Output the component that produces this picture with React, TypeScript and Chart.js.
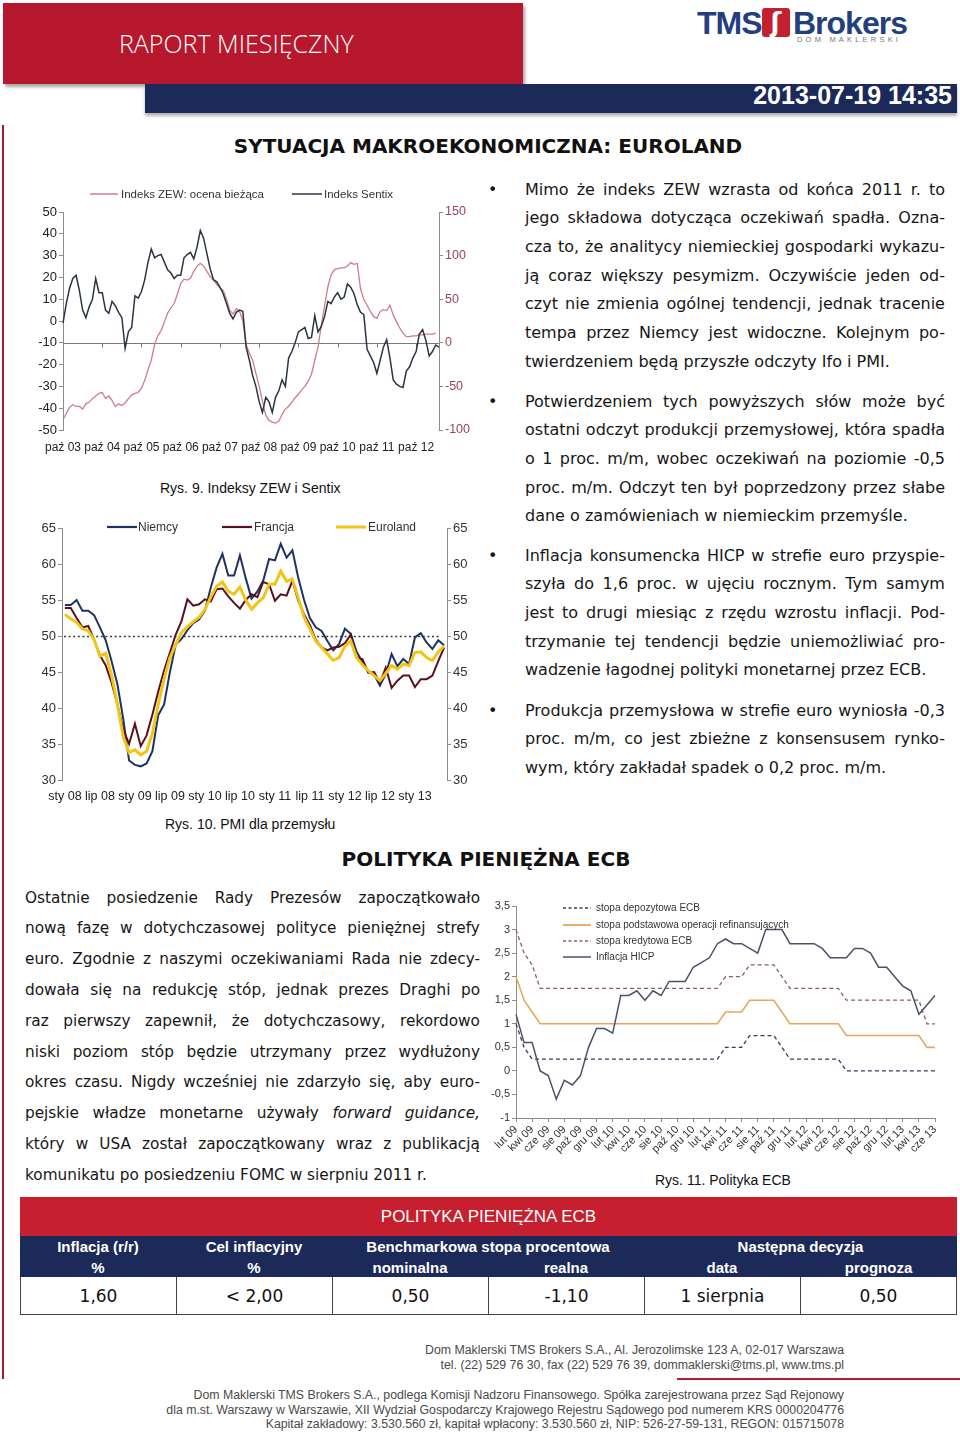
import React, { useEffect, useRef } from 'react';
import { Chart, registerables } from 'chart.js';

Chart.register(...registerables);

const BODY_FONT = '"DejaVu Sans", Verdana, sans-serif';
const CHART_FONT = '"Liberation Sans", Arial, sans-serif';

const PL_MONTHS = ['sty', 'lut', 'mar', 'kwi', 'maj', 'cze', 'lip', 'sie', 'wrz', 'paź', 'lis', 'gru'];

function monthCategories(startYear: number, startMonthIdx: number, count: number): string[] {
  const out: string[] = [];
  for (let k = 0; k < count; k++) {
    const m = (startMonthIdx + k) % 12;
    const y = startYear + Math.floor((startMonthIdx + k) / 12);
    out.push(`${PL_MONTHS[m]} ${String(y % 100).padStart(2, '0')}`);
  }
  return out;
}

/* ---------------- Rys. 9: ZEW i Sentix (monthly, paź 03 - maj 13) ---------------- */
const zewSentixCategories = monthCategories(2003, 9, 116);
const zewSentixTickLabels = ['paź 03', 'paź 04', 'paź 05', 'paź 06', 'paź 07', 'paź 08', 'paź 09', 'paź 10', 'paź 11', 'paź 12'];
const sentixIndex = [
  -1, 8, 15, 19.5, 21, 14, 5, 1.5, 6.5, 10,
  19.5, 13, 13, 5, 3.5, 9, 7, 4, 1.5, -12.5,
  -5, -3, 11.5, 10.5, 13.5, 19, 27, 33, 29, 30,
  30.5, 27, 23.5, 22, 19.5, 21, 21, 29, 30.5, 31.5,
  28.5, 34, 41.5, 38, 31, 24, 19, 18, 15.5, 12.5,
  8, 3.5, 1, 4, 5, 4.5, -12, -18, -25, -30,
  -37, -42, -35, -37, -42, -35, -32, -27, -30, -17,
  -14, -10, -5, -4, -3, -8, -7.5, 2.5, -5, -2.5,
  2, 9, 8, 11, 13, 10, 11, 17, 15.5, 12.5,
  7.5, 4, 3, -13, -16, -19, -24, -18, -12, -8.5,
  -17, -27, -29, -30, -30.5, -23, -21, -17, -14, -6,
  -4, -9, -16, -14, -11, -12,
];
const zewCurrentConditions = [
  -88, -81, -74, -71, -73, -73, -76, -70, -68, -64,
  -61, -58, -57, -64, -61, -66, -73, -70, -72, -69,
  -64, -60, -58, -57, -52, -43, -31, -20, -2, 8,
  14, 24, 34, 40, 45, 56, 68, 73, 72, 74,
  82, 88, 91, 88, 82, 76, 72, 67, 63, 60,
  50, 37, 33, 39, 36, 25, -2, -12, -20, -35,
  -50, -67, -83, -89, -91, -92, -90, -82, -76, -73,
  -68, -63, -59, -54, -50, -44, -36, -20, -5, 20,
  42, 64, 78, 84, 85, 86, 86, 88, 92, 90,
  91, 62, 50, 43, 36, 30, 28, 36, 38, 37,
  43, 32, 24, 17, 11, 7, 7, 8, 8, 9,
  9, 10, 10, 10, 11, null,
];

/* ---------------- Rys. 10: PMI (monthly, sty 08 - cze 13) ---------------- */
const pmiCategories = monthCategories(2008, 0, 66);
const pmiTickLabels = ['sty 08', 'lip 08', 'sty 09', 'lip 09', 'sty 10', 'lip 10', 'sty 11', 'lip 11', 'sty 12', 'lip 12', 'sty 13'];
const pmiGermany = [
  54.3, 54.3, 55.0, 53.5, 53.5, 52.9, 51.2, 49.4, 46.5, 43.3,
  38.5, 32.7, 32.1, 31.9, 32.3, 34.0, 39.0, 40.5, 45.0, 48.8,
  49.6, 50.8, 51.8, 52.3, 53.5, 56.7, 59.5, 61.4, 58.4, 58.4,
  61.2, 58.0, 55.2, 56.2, 57.7, 60.7, 60.5, 62.8, 60.9, 61.9,
  58.1, 55.0, 52.5, 51.2, 50.7, 49.3, 48.0, 48.9, 51.0, 50.3,
  47.8, 46.4, 45.0, 44.6, 43.1, 44.7, 47.5, 45.8, 46.8, 46.1,
  49.8, 50.4, 49.1, 48.2, 49.4, 48.7,
];
const pmiFrance = [
  53.9, 53.9, 52.5, 51.2, 51.4, 49.5, 47.3, 45.9, 43.5, 40.5,
  37.0, 35.0, 37.8, 34.7, 36.2, 39.1, 42.3, 45.2, 47.7, 50.2,
  52.1, 55.1, 54.2, 54.4, 55.1, 54.8, 56.5, 56.6, 55.5, 54.6,
  53.8, 55.0, 55.8, 55.4, 57.5, 57.2, 54.9, 55.8, 55.6, 57.7,
  54.9, 53.0, 51.5, 49.5, 48.4, 48.0, 48.4, 48.5, 49.0, 50.2,
  47.0, 46.8, 44.9, 45.0, 43.5, 45.6, 42.8, 43.8, 44.5, 44.5,
  42.9, 44.0, 44.0, 44.5, 46.5, 48.4,
];
const pmiEuroland = [
  53.0, 52.4, 51.9, 51.0, 50.7, 49.5, 47.2, 47.6, 44.5, 40.5,
  36.0, 33.8, 34.2, 33.5, 34.0, 36.5, 40.5, 44.0, 47.0, 48.8,
  50.5, 51.3, 52.0, 52.6, 53.7, 55.4, 56.9, 57.5, 56.2, 55.8,
  56.8, 55.0, 53.7, 54.6, 55.3, 57.2, 57.2, 59.0, 57.6, 57.9,
  55.3, 52.6, 51.0, 49.3, 48.4, 47.5, 46.6, 47.0, 48.6, 49.3,
  47.0, 46.0, 45.2, 44.5, 43.8, 44.8, 45.9, 45.4, 46.1, 45.9,
  47.7, 47.8, 47.0, 46.6, 47.8, 48.6,
];

/* ---------------- Rys. 11: Polityka ECB (monthly, lut 09 - cze 13) ---------------- */
const ecbCategories = monthCategories(2009, 1, 53);
const ecbTickLabels = [
  'lut 09', 'kwi 09', 'cze 09', 'sie 09', 'paź 09', 'gru 09', 'lut 10', 'kwi 10', 'cze 10', 'sie 10',
  'paź 10', 'gru 10', 'lut 11', 'kwi 11', 'cze 11', 'sie 11', 'paź 11', 'gru 11', 'lut 12', 'kwi 12',
  'cze 12', 'sie 12', 'paź 12', 'gru 12', 'lut 13', 'kwi 13', 'cze 13',
];
const ecbDepositRate = [
  1.0, 0.5, 0.25, 0.25, 0.25, 0.25, 0.25, 0.25, 0.25, 0.25,
  0.25, 0.25, 0.25, 0.25, 0.25, 0.25, 0.25, 0.25, 0.25, 0.25,
  0.25, 0.25, 0.25, 0.25, 0.25, 0.25, 0.5, 0.5, 0.5, 0.75,
  0.75, 0.75, 0.75, 0.5, 0.25, 0.25, 0.25, 0.25, 0.25, 0.25,
  0.25, 0, 0, 0, 0, 0, 0, 0, 0, 0,
  0, 0, 0,
];
const ecbRefiRate = [
  2.0, 1.5, 1.25, 1.0, 1.0, 1.0, 1.0, 1.0, 1.0, 1.0,
  1.0, 1.0, 1.0, 1.0, 1.0, 1.0, 1.0, 1.0, 1.0, 1.0,
  1.0, 1.0, 1.0, 1.0, 1.0, 1.0, 1.25, 1.25, 1.25, 1.5,
  1.5, 1.5, 1.5, 1.25, 1.0, 1.0, 1.0, 1.0, 1.0, 1.0,
  1.0, 0.75, 0.75, 0.75, 0.75, 0.75, 0.75, 0.75, 0.75, 0.75,
  0.75, 0.5, 0.5,
];
const ecbLendingRate = [
  3.0, 2.5, 2.25, 1.75, 1.75, 1.75, 1.75, 1.75, 1.75, 1.75,
  1.75, 1.75, 1.75, 1.75, 1.75, 1.75, 1.75, 1.75, 1.75, 1.75,
  1.75, 1.75, 1.75, 1.75, 1.75, 1.75, 2.0, 2.0, 2.0, 2.25,
  2.25, 2.25, 2.25, 2.0, 1.75, 1.75, 1.75, 1.75, 1.75, 1.75,
  1.75, 1.5, 1.5, 1.5, 1.5, 1.5, 1.5, 1.5, 1.5, 1.5,
  1.5, 1.0, 1.0,
];
const hicpInflation = [
  1.2, 0.6, 0.6, 0.0, -0.1, -0.6, -0.2, -0.3, -0.1, 0.5,
  0.9, 0.9, 0.8, 1.6, 1.6, 1.7, 1.5, 1.7, 1.6, 1.9,
  1.9, 1.9, 2.2, 2.3, 2.4, 2.7, 2.8, 2.7, 2.7, 2.6,
  2.5, 3.0, 3.0, 3.0, 2.7, 2.7, 2.7, 2.7, 2.6, 2.4,
  2.4, 2.4, 2.6, 2.6, 2.5, 2.2, 2.2, 2.0, 1.8, 1.7,
  1.2, 1.4, 1.6,
];

/* ---------------- Text content ---------------- */
const bullet1 = [
  'Mimo że indeks ZEW wzrasta od końca 2011 r. to',
  'jego składowa dotycząca oczekiwań spadła. Ozna-',
  'cza to, że analitycy niemieckiej gospodarki wykazu-',
  'ją coraz większy pesymizm. Oczywiście jeden od-',
  'czyt nie zmienia ogólnej tendencji, jednak tracenie',
  'tempa przez Niemcy jest widoczne. Kolejnym po-',
  'twierdzeniem będą przyszłe odczyty Ifo i PMI.',
];
const bullet2 = [
  'Potwierdzeniem tych powyższych słów może być',
  'ostatni odczyt produkcji przemysłowej, która spadła',
  'o 1 proc. m/m, wobec oczekiwań na poziomie -0,5',
  'proc. m/m. Odczyt ten był poprzedzony przez słabe',
  'dane o zamówieniach w niemieckim przemyśle.',
];
const bullet3 = [
  'Inflacja konsumencka HICP w strefie euro przyspie-',
  'szyła do 1,6 proc. w ujęciu rocznym. Tym samym',
  'jest to drugi miesiąc z rzędu wzrostu inflacji. Pod-',
  'trzymanie tej tendencji będzie uniemożliwiać pro-',
  'wadzenie łagodnej polityki monetarnej przez ECB.',
];
const bullet4 = [
  'Produkcja przemysłowa w strefie euro wyniosła -0,3',
  'proc. m/m, co jest zbieżne z konsensusem rynko-',
  'wym, który zakładał spadek o 0,2 proc. m/m.',
];
const ecbParagraph = [
  'Ostatnie posiedzenie Rady Prezesów zapoczątkowało',
  'nową fazę w dotychczasowej polityce pieniężnej strefy',
  'euro. Zgodnie z naszymi oczekiwaniami Rada nie zdecy-',
  'dowała się na redukcję stóp, jednak prezes Draghi po',
  'raz pierwszy zapewnił, że dotychczasowy, rekordowo',
  'niski poziom stóp będzie utrzymany przez wydłużony',
  'okres czasu. Nigdy wcześniej nie zdarzyło się, aby euro-',
  'pejskie władze monetarne używały ~forward ~guidance,',
  'który w USA został zapoczątkowany wraz z publikacją',
  'komunikatu po posiedzeniu FOMC w sierpniu 2011 r.',
];
const tableHeadTop = [
  { text: 'Inflacja (r/r)', from: 0, to: 1 },
  { text: 'Cel inflacyjny', from: 1, to: 2 },
  { text: 'Benchmarkowa stopa procentowa', from: 2, to: 4 },
  { text: 'Następna decyzja', from: 4, to: 6 },
];
const tableHeadBottom = ['%', '%', 'nominalna', 'realna', 'data', 'prognoza'];
const tableValues = ['1,60', '< 2,00', '0,50', '-1,10', '1 sierpnia', '0,50'];
const tableCols = [20, 176, 332, 488, 644, 800, 957];

/* ---------------- Chart plumbing ---------------- */
function ChartCanvas({ left, top, width, height, build }: any) {
  const ref = useRef<HTMLCanvasElement | null>(null);
  useEffect(() => {
    if (!ref.current) return;
    const chart = new Chart(ref.current, build());
    return () => chart.destroy();
  }, []);
  return (
    <canvas
      ref={ref}
      width={width}
      height={height}
      style={{ position: 'absolute', left, top, width, height }}
    />
  );
}

const AXIS_GRAY = '#8c8c8c';

function yAxisBase(position: string, min: number, max: number, step: number, color: string, w: number, size = 12.5, fmt?: (v: number) => string) {
  return {
    position,
    min,
    max,
    ticks: {
      stepSize: step,
      padding: 2,
      color,
      font: { family: CHART_FONT, size },
      callback: (v: number) => (fmt ? fmt(v) : String(v)),
    },
    grid: { drawOnChartArea: false, drawTicks: true, tickLength: 4, color: AXIS_GRAY },
    border: { display: true, color: AXIS_GRAY, width: 1 },
    afterFit: (s: any) => {
      s.width = w;
    },
  };
}

const zewAxisLinePlugin = {
  id: 'zewAxisLine',
  beforeDatasetsDraw(chart: any) {
    const { ctx, chartArea, scales } = chart;
    const y = Math.round(scales.y.getPixelForValue(-10)) + 0.5;
    ctx.save();
    ctx.strokeStyle = '#7a7a7a';
    ctx.lineWidth = 1;
    ctx.beginPath();
    ctx.moveTo(chartArea.left, y);
    ctx.lineTo(chartArea.right, y);
    zewSentixCategories.forEach((c, i) => {
      if (zewSentixTickLabels.includes(c) && i > 0) {
        const x = Math.round(scales.x.getPixelForValue(i)) + 0.5;
        ctx.moveTo(x, y);
        ctx.lineTo(x, y + 4);
      }
    });
    ctx.stroke();
    ctx.restore();
  },
};

const pmiFiftyPlugin = {
  id: 'pmiFifty',
  beforeDatasetsDraw(chart: any) {
    const { ctx, chartArea, scales } = chart;
    const y = Math.round(scales.y.getPixelForValue(50)) + 0.5;
    ctx.save();
    ctx.strokeStyle = '#3a3a3a';
    ctx.lineWidth = 1.6;
    ctx.setLineDash([2, 2.6]);
    ctx.beginPath();
    ctx.moveTo(chartArea.left + 2, y);
    ctx.lineTo(chartArea.right - 6, y);
    ctx.stroke();
    ctx.restore();
  },
};

function buildZewChart() {
  return {
    type: 'line',
    data: {
      labels: zewSentixCategories,
      datasets: [
        { label: 'Indeks Sentix', data: sentixIndex, yAxisID: 'y', borderColor: '#2b3445', borderWidth: 1.5, pointRadius: 0, tension: 0 },
        { label: 'Indeks ZEW: ocena bieżąca', data: zewCurrentConditions, yAxisID: 'y1', borderColor: '#cf7c8c', borderWidth: 1.3, pointRadius: 0, tension: 0 },
      ],
    },
    options: {
      responsive: false,
      animation: false,
      events: [],
      layout: { padding: { top: 29, left: 0, right: 0, bottom: 0 } },
      plugins: { legend: { display: false }, tooltip: { enabled: false } },
      scales: {
        x: {
          type: 'category',
          offset: false,
          grid: { display: false, drawTicks: false },
          border: { display: false },
          ticks: {
            autoSkip: false,
            maxRotation: 0,
            minRotation: 0,
            padding: 10,
            color: '#222',
            font: { family: CHART_FONT, size: 12 },
            callback: (_v: any, i: number) => (zewSentixTickLabels.includes(zewSentixCategories[i]) ? zewSentixCategories[i] : null),
          },
          afterFit: (s: any) => {
            s.height = 25;
          },
        },
        y: yAxisBase('left', -50, 50, 10, '#222', 28, 13),
        y1: yAxisBase('right', -100, 150, 50, '#9a4456', 36, 12.5),
      },
    },
    plugins: [zewAxisLinePlugin],
  };
}

function buildPmiChart() {
  return {
    type: 'line',
    data: {
      labels: pmiCategories,
      datasets: [
        { label: 'Euroland', data: pmiEuroland, borderColor: '#f3c316', borderWidth: 3, pointRadius: 0, tension: 0 },
        { label: 'Francja', data: pmiFrance, borderColor: '#5a0f1d', borderWidth: 2, pointRadius: 0, tension: 0 },
        { label: 'Niemcy', data: pmiGermany, borderColor: '#1d3461', borderWidth: 2, pointRadius: 0, tension: 0 },
      ],
    },
    options: {
      responsive: false,
      animation: false,
      events: [],
      layout: { padding: { top: 13, left: 0, right: 0, bottom: 0 } },
      plugins: { legend: { display: false }, tooltip: { enabled: false } },
      scales: {
        x: {
          type: 'category',
          offset: true,
          grid: { display: false, drawTicks: false },
          border: { display: false },
          ticks: {
            autoSkip: false,
            maxRotation: 0,
            minRotation: 0,
            padding: 9,
            color: '#222',
            font: { family: CHART_FONT, size: 12.5 },
            callback: (_v: any, i: number) => (pmiTickLabels.includes(pmiCategories[i]) ? pmiCategories[i] : null),
          },
          afterFit: (s: any) => {
            s.height = 28;
          },
        },
        y: yAxisBase('left', 30, 65, 5, '#333', 27, 13),
        y1: yAxisBase('right', 30, 65, 5, '#333', 33, 13),
      },
    },
    plugins: [pmiFiftyPlugin],
  };
}

function buildEcbChart() {
  const comma = (v: number) => String(v).replace('.', ',');
  return {
    type: 'line',
    data: {
      labels: ecbCategories,
      datasets: [
        { label: 'Inflacja HICP', data: hicpInflation, borderColor: '#4a5265', borderWidth: 1.5, pointRadius: 0, tension: 0 },
        { label: 'stopa depozytowa ECB', data: ecbDepositRate, borderColor: '#3a3a5c', borderWidth: 1.3, borderDash: [4, 3], pointRadius: 0, tension: 0 },
        { label: 'stopa podstawowa operacji refinansujących', data: ecbRefiRate, borderColor: '#e6a85e', borderWidth: 1.6, pointRadius: 0, tension: 0 },
        { label: 'stopa kredytowa ECB', data: ecbLendingRate, borderColor: '#8c5a7a', borderWidth: 1.3, borderDash: [4, 3], pointRadius: 0, tension: 0 },
      ],
    },
    options: {
      responsive: false,
      animation: false,
      events: [],
      layout: { padding: { top: 12, left: 0, right: 15, bottom: 0 } },
      plugins: { legend: { display: false }, tooltip: { enabled: false } },
      scales: {
        x: {
          type: 'category',
          offset: false,
          grid: { drawOnChartArea: false, drawTicks: true, tickLength: 4, color: AXIS_GRAY },
          border: { display: true, color: AXIS_GRAY, width: 1 },
          ticks: {
            autoSkip: false,
            maxRotation: 45,
            minRotation: 45,
            padding: 1,
            color: '#333',
            font: { family: CHART_FONT, size: 11 },
            callback: (_v: any, i: number) => (ecbTickLabels.includes(ecbCategories[i]) ? ecbCategories[i] : null),
          },
          afterFit: (s: any) => {
            s.height = 42;
          },
        },
        y: yAxisBase('left', -1, 3.5, 0.5, '#333', 26, 11, comma),
      },
    },
  };
}

/* ---------------- Text helpers ---------------- */
function renderWord(w: string, key: number) {
  if (w.startsWith('~')) return <i key={key}>{w.slice(1)}</i>;
  return <span key={key}>{w}</span>;
}

function Paragraph({ left, top, width, lineHeight, fontSize, lines }: any) {
  return (
    <div
      style={{
        position: 'absolute',
        left,
        top,
        width,
        fontFamily: BODY_FONT,
        fontSize,
        lineHeight: `${lineHeight}px`,
        color: '#161616',
      }}
    >
      {lines.map((ln: string, k: number) => {
        const words = ln.split(' ');
        const last = k === lines.length - 1;
        if (last) {
          return (
            <div key={k} style={{ height: lineHeight, whiteSpace: 'nowrap' }}>
              {words.map((w, j) => (
                <React.Fragment key={j}>
                  {j > 0 ? ' ' : null}
                  {renderWord(w, j)}
                </React.Fragment>
              ))}
            </div>
          );
        }
        return (
          <div key={k} style={{ height: lineHeight, display: 'flex', justifyContent: 'space-between', whiteSpace: 'nowrap' }}>
            {words.map((w, j) => renderWord(w, j))}
          </div>
        );
      })}
    </div>
  );
}

function Bullet({ top, lines }: any) {
  const lh = 28.67;
  return (
    <>
      <div style={{ position: 'absolute', left: 488, top, lineHeight: `${lh}px`, fontFamily: BODY_FONT, fontSize: 16, color: '#161616' }}>•</div>
      <Paragraph left={525} top={top} width={420} lineHeight={lh} fontSize={16} lines={lines} />
    </>
  );
}

function LineSample({ x, y, w, color, width, dash }: any) {
  return (
    <svg style={{ position: 'absolute', left: x, top: y - 4 }} width={w} height={8}>
      <line x1={0} y1={4} x2={w} y2={4} stroke={color} strokeWidth={width} strokeDasharray={dash || undefined} />
    </svg>
  );
}

function Label({ x, y, text, size, color = '#222', lh = 16, font = CHART_FONT }: any) {
  return (
    <div
      style={{
        position: 'absolute',
        left: x,
        top: y - lh / 2,
        lineHeight: `${lh}px`,
        fontSize: size,
        fontFamily: font,
        color,
        whiteSpace: 'nowrap',
      }}
    >
      {text}
    </div>
  );
}

function FooterLine({ y, text }: any) {
  return (
    <div
      style={{
        position: 'absolute',
        right: 116,
        top: y - 7,
        lineHeight: '14px',
        fontSize: 12.3,
        fontFamily: CHART_FONT,
        color: '#4a4a4a',
        whiteSpace: 'nowrap',
        textAlign: 'right',
      }}
    >
      {text}
    </div>
  );
}

export default function App() {
  const navy = '#1c2a59';
  return (
    <div style={{ position: 'absolute', left: 0, top: 0, width: 960, height: 1436, background: '#ffffff', overflow: 'hidden' }}>
      {/* header */}
      <div style={{ position: 'absolute', left: 3, top: 3, width: 520, height: 81, background: '#b7182e', boxShadow: '2px 3px 3px rgba(0,0,0,0.35)' }} />
      <div style={{ position: 'absolute', left: 119, top: 27, lineHeight: '32px', fontSize: 25, fontWeight: 300, fontFamily: '"Open Sans", sans-serif', color: '#ffffff', whiteSpace: 'nowrap' }}>
        RAPORT MIESIĘCZNY
      </div>
      <div style={{ position: 'absolute', left: 145, top: 84, width: 812, height: 29, background: navy, boxShadow: '0 3px 3px rgba(0,0,0,0.3)' }} />
      <div style={{ position: 'absolute', right: 8, top: 81, lineHeight: '28px', fontSize: 25, fontWeight: 700, fontFamily: CHART_FONT, color: '#ffffff', whiteSpace: 'nowrap' }}>
        2013-07-19 14:35
      </div>
      {/* logo */}
      <div style={{ position: 'absolute', left: 697, top: 6, lineHeight: '34px', fontSize: 32, fontWeight: 700, letterSpacing: -1, fontFamily: CHART_FONT, color: '#243f7d' }}>TMS</div>
      <div style={{ position: 'absolute', left: 762, top: 8, width: 28, height: 29, background: '#c4202f', borderRadius: 3, color: '#fff', textAlign: 'center', lineHeight: '29px', fontSize: 26, fontWeight: 700, fontFamily: BODY_FONT }}>ʃ</div>
      <div style={{ position: 'absolute', left: 793, top: 6, lineHeight: '34px', fontSize: 32, fontWeight: 700, letterSpacing: -1, fontFamily: CHART_FONT, color: '#243f7d' }}>Brokers</div>
      <div style={{ position: 'absolute', left: 797, top: 35, lineHeight: '10px', fontSize: 7.5, letterSpacing: 3.2, fontFamily: CHART_FONT, color: '#777' }}>DOM MAKLERSKI</div>

      {/* left red rule */}
      <div style={{ position: 'absolute', left: 2, top: 125, width: 2, height: 1254, background: '#a8182b' }} />

      {/* section title */}
      <div style={{ position: 'absolute', left: 188, top: 133, width: 600, textAlign: 'center', lineHeight: '26px', fontSize: 20, fontWeight: 700, fontFamily: BODY_FONT, color: '#111' }}>
        SYTUACJA MAKROEKONOMICZNA: EUROLAND
      </div>

      {/* Rys. 9 */}
      <ChartCanvas left={35} top={183} width={440} height={272} build={buildZewChart} />
      <LineSample x={90} y={194} w={28} color="#cf7c8c" width={1.5} />
      <Label x={121} y={194} text="Indeks ZEW: ocena bieżąca" size={11.5} color="#333" />
      <LineSample x={292} y={194} w={30} color="#2b3445" width={1.5} />
      <Label x={324} y={194} text="Indeks Sentix" size={11.5} color="#333" />
      <Label x={160} y={488} text="Rys. 9. Indeksy ZEW i Sentix" size={14} color="#111" lh={18} />

      {/* Rys. 10 */}
      <ChartCanvas left={35} top={515} width={445} height={293} build={buildPmiChart} />
      <LineSample x={107} y={527} w={30} color="#1d3461" width={2.2} />
      <Label x={138} y={527} text="Niemcy" size={12} color="#333" />
      <LineSample x={222} y={527} w={30} color="#5a0f1d" width={2.2} />
      <Label x={254} y={527} text="Francja" size={12} color="#333" />
      <LineSample x={336} y={527} w={30} color="#f3c316" width={3} />
      <Label x={368} y={527} text="Euroland" size={12} color="#333" />
      <Label x={165} y={824} text="Rys. 10. PMI dla przemysłu" size={14} color="#111" lh={18} />

      {/* right column bullets */}
      <Bullet top={175.7} lines={bullet1} />
      <Bullet top={387.7} lines={bullet2} />
      <Bullet top={541.7} lines={bullet3} />
      <Bullet top={696.7} lines={bullet4} />

      {/* ECB section */}
      <div style={{ position: 'absolute', left: 186, top: 846, width: 600, textAlign: 'center', lineHeight: '26px', fontSize: 20, fontWeight: 700, fontFamily: BODY_FONT, color: '#111' }}>
        POLITYKA PIENIĘŻNA ECB
      </div>
      <Paragraph left={25} top={882.6} width={455} lineHeight={30.8} fontSize={15.3} lines={ecbParagraph} />

      {/* Rys. 11 */}
      <ChartCanvas left={490} top={894} width={460} height={266} build={buildEcbChart} />
      <LineSample x={563} y={908} w={28} color="#3a3a5c" width={1.3} dash="3 2.5" />
      <Label x={596} y={908} text="stopa depozytowa ECB" size={10} color="#333" lh={14} />
      <LineSample x={563} y={924.5} w={28} color="#e6a85e" width={1.8} />
      <Label x={596} y={924.5} text="stopa podstawowa operacji refinansujących" size={10} color="#333" lh={14} />
      <LineSample x={563} y={941} w={28} color="#8c5a7a" width={1.3} dash="3 2.5" />
      <Label x={596} y={941} text="stopa kredytowa ECB" size={10} color="#333" lh={14} />
      <LineSample x={563} y={957} w={28} color="#4a5265" width={1.5} />
      <Label x={596} y={957} text="Inflacja HICP" size={10} color="#333" lh={14} />
      <Label x={655} y={1180} text="Rys. 11. Polityka ECB" size={14} color="#111" lh={18} />

      {/* table */}
      <div style={{ position: 'absolute', left: 20, top: 1197, width: 937, height: 39, background: '#c61f30', color: '#fff', textAlign: 'center', lineHeight: '39px', fontSize: 17, fontFamily: CHART_FONT }}>
        POLITYKA PIENIĘŻNA ECB
      </div>
      <div style={{ position: 'absolute', left: 20, top: 1236, width: 937, height: 41, background: navy }} />
      {tableHeadTop.map((h, k) => (
        <div
          key={'ht' + k}
          style={{
            position: 'absolute',
            left: tableCols[h.from],
            width: tableCols[h.to] - tableCols[h.from],
            top: 1237,
            lineHeight: '19px',
            textAlign: 'center',
            color: '#fff',
            fontWeight: 700,
            fontSize: 15,
            fontFamily: CHART_FONT,
            whiteSpace: 'nowrap',
          }}
        >
          {h.text}
        </div>
      ))}
      {tableHeadBottom.map((t, k) => (
        <div
          key={'hb' + k}
          style={{
            position: 'absolute',
            left: tableCols[k],
            width: tableCols[k + 1] - tableCols[k],
            top: 1257.5,
            lineHeight: '19px',
            textAlign: 'center',
            color: '#fff',
            fontWeight: 700,
            fontSize: 15,
            fontFamily: CHART_FONT,
            whiteSpace: 'nowrap',
          }}
        >
          {t}
        </div>
      ))}
      {tableValues.map((t, k) => (
        <div
          key={'tv' + k}
          style={{
            position: 'absolute',
            left: tableCols[k],
            width: tableCols[k + 1] - tableCols[k],
            top: 1277,
            height: 38,
            boxSizing: 'border-box',
            borderLeft: '1px solid #444',
            borderRight: k === tableValues.length - 1 ? '1px solid #444' : 'none',
            borderBottom: '1px solid #444',
            lineHeight: '38px',
            textAlign: 'center',
            color: '#111',
            fontSize: 17,
            fontFamily: BODY_FONT,
            whiteSpace: 'nowrap',
          }}
        >
          {t}
        </div>
      ))}

      {/* footer */}
      <FooterLine y={1350} text="Dom Maklerski TMS Brokers S.A., Al. Jerozolimske 123 A, 02-017 Warszawa" />
      <FooterLine y={1365} text="tel. (22) 529 76 30, fax (22) 529 76 39, dommaklerski@tms.pl, www.tms.pl" />
      <div style={{ position: 'absolute', left: 677, top: 1378, width: 283, height: 2, background: '#b01c2e' }} />
      <FooterLine y={1395} text="Dom Maklerski TMS Brokers S.A., podlega Komisji Nadzoru Finansowego. Spółka zarejestrowana przez Sąd Rejonowy" />
      <FooterLine y={1410} text="dla m.st. Warszawy w Warszawie, XII Wydział Gospodarczy Krajowego Rejestru Sądowego pod numerem KRS 0000204776" />
      <FooterLine y={1424} text="Kapitał zakładowy: 3.530.560 zł, kapitał wpłacony: 3.530.560 zł, NIP: 526-27-59-131, REGON: 015715078" />
    </div>
  );
}
